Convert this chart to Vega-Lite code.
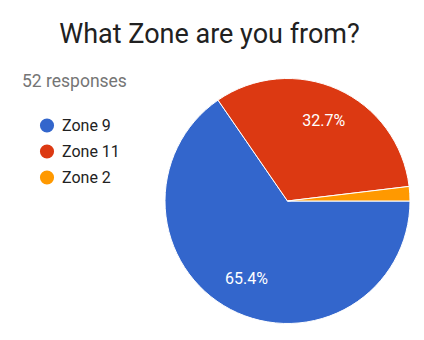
{
  "$schema": "https://vega.github.io/schema/vega-lite/v6.json",
  "width": 245,
  "height": 246,
  "autosize": {"type": "none"},
  "padding": {"left": 165, "top": 78, "right": 14, "bottom": 16},
  "background": "white",
  "title": {
    "text": "What Zone are you from?",
    "anchor": "middle",
    "frame": "group",
    "dx": -78,
    "offset": 24,
    "font": "Roboto",
    "fontSize": 27,
    "fontWeight": "normal",
    "color": "#212121"
  },
  "data": {
    "values": [
      {"zone": "Zone 9", "pct": 0.654, "rank": 1},
      {"zone": "Zone 11", "pct": 0.327, "rank": 2},
      {"zone": "Zone 2", "pct": 0.019, "rank": 3}
    ]
  },
  "encoding": {
    "theta": {"field": "pct", "type": "quantitative", "stack": true, "scale": {"range": [1.5707963, 7.8539816]}},
    "order": {"field": "rank", "type": "quantitative"}
  },
  "layer": [
    {
      "mark": {"type": "arc", "stroke": "white", "strokeWidth": 1},
      "encoding": {
        "color": {
          "field": "zone",
          "type": "nominal",
          "scale": {"domain": ["Zone 9", "Zone 11", "Zone 2"], "range": ["#3366cc", "#dc3912", "#ff9900"]},
          "legend": {
            "title": "52 responses",
            "orient": "none",
            "legendX": -143,
            "legendY": -5,
            "titleFont": "Roboto",
            "titleFontSize": 17.5,
            "titleFontWeight": "normal",
            "titleColor": "#757575",
            "titlePadding": 27,
            "symbolType": "circle",
            "symbolSize": 200,
            "symbolStrokeWidth": 0,
            "symbolOffset": 17,
            "labelFont": "Roboto",
            "labelFontSize": 16,
            "labelColor": "#222222",
            "labelOffset": 7,
            "rowPadding": 10
          }
        }
      }
    },
    {
      "transform": [{"filter": "datum.pct > 0.05"}],
      "mark": {"type": "text", "radius": 88, "font": "Roboto", "fontSize": 16, "color": "white"},
      "encoding": {
        "text": {"field": "pct", "type": "quantitative", "format": ".1%"}
      }
    }
  ]
}
